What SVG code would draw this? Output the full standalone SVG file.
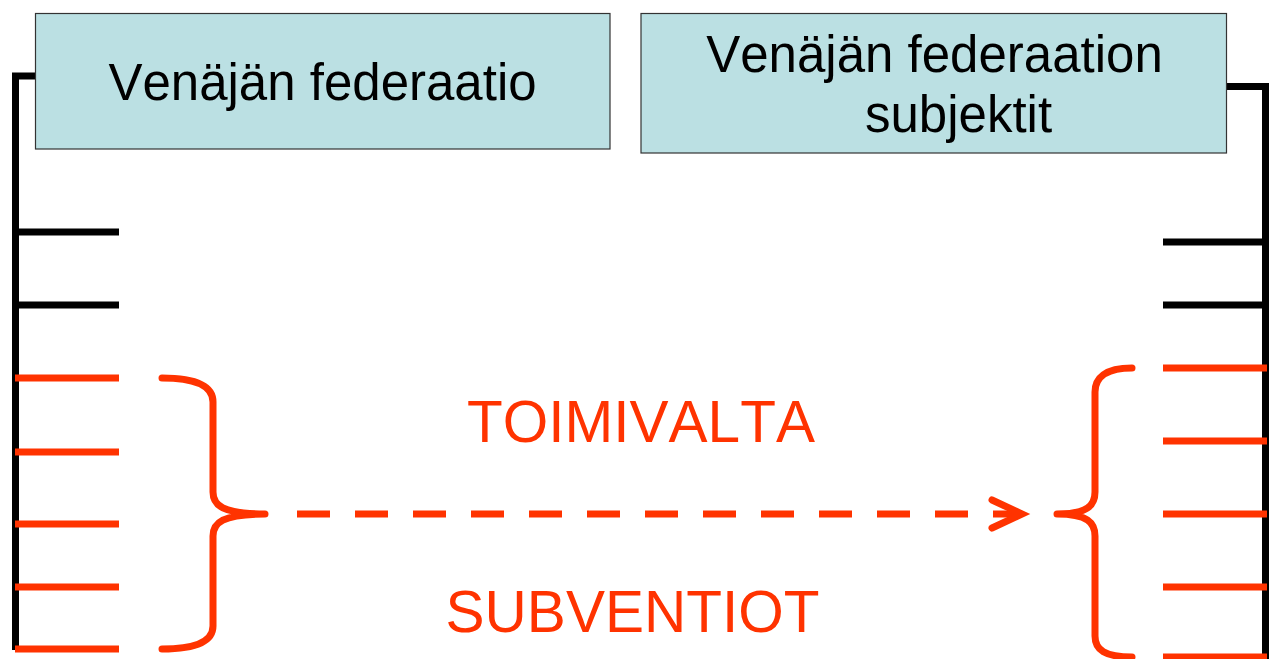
<svg xmlns="http://www.w3.org/2000/svg" width="1269" height="659" viewBox="0 0 1269 659">
<style>
text{font-kerning:none}
.box{fill:#BBE0E3;stroke:#333333;stroke-width:1.2}
.lbl{font-family:"Liberation Sans",Arial,sans-serif;font-size:51px;fill:#000000;text-anchor:middle}
.red{font-family:"Liberation Sans",Arial,sans-serif;font-size:58.5px;fill:#FF3300;text-anchor:middle}
.blk{stroke:#000000;stroke-width:7;fill:none}
.rt{stroke:#FF3300;stroke-width:7;fill:none}
.brace{stroke:#FF3300;stroke-width:7;fill:none;stroke-linecap:round;stroke-linejoin:round}
.dash{stroke:#FF3300;stroke-width:7;fill:none;stroke-dasharray:33 25}
</style>
<defs>
<marker id="arr" markerUnits="userSpaceOnUse" markerWidth="50" markerHeight="50" viewBox="-40 -25 50 50" refX="0" refY="0" orient="auto">
<path d="M-30,-14 L0,0 L-30,14" stroke="#FF3300" stroke-width="7" fill="none" stroke-linecap="round" stroke-linejoin="miter"/>
</marker>
</defs>
<rect width="1269" height="659" fill="#FFFFFF"/>
<g id="connectors">
<path class="blk" d="M36,76 H15.5 V650"/>
<path class="blk" d="M1227,86.5 H1265.5 V659"/>
<path class="blk" d="M15,232 H119 M15,305 H119"/>
<path class="blk" d="M1163,242 H1266 M1163,305 H1266"/>
<path class="rt" d="M15,378 H119 M15,452 H119 M15,524 H119 M15,587 H119 M15,649 H119"/>
<path class="rt" d="M1163,368 H1267 M1163,441 H1267 M1163,514 H1267 M1163,587 H1267 M1163,657 H1267"/>
<path class="brace" d="M162,378 C200,378 213,388 213,402 V492 C213,505 222,514 265,514 C222,514 213,523 213,536 V626 C213,640 200,649 162,649"/>
<path class="brace" d="M1132,368 C1105,368 1095,378 1095,392 V492 C1095,505 1088,514 1057,514 C1088,514 1095,523 1095,536 V636 C1095,650 1105,657 1132,657"/>
<path class="dash" d="M297,514 H1022" marker-end="url(#arr)"/>
</g>
<g id="node-federaatio">
<rect class="box" x="35.5" y="13.5" width="574.5" height="135.5"/>
<text class="lbl" x="322.5" y="100">Venäjän federaatio</text>
</g>
<g id="node-subjektit">
<rect class="box" x="641" y="13.5" width="585.5" height="139.5"/>
<text class="lbl" x="934.5" y="72">Venäjän federaation</text>
<text class="lbl" x="958.5" y="132">subjektit</text>
</g>
<g id="label-toimivalta">
<text class="red" x="641" y="442">TOIMIVALTA</text>
</g>
<g id="label-subventiot">
<text class="red" x="632.5" y="632">SUBVENTIOT</text>
</g>
</svg>
